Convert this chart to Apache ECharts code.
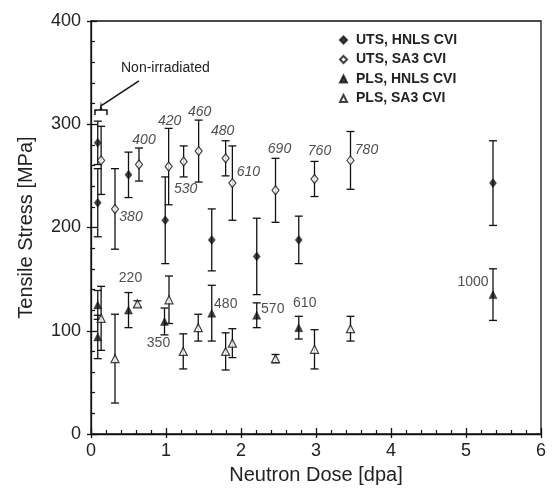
<!DOCTYPE html>
<html>
<head>
<meta charset="utf-8">
<script src="https://cdn.jsdelivr.net/npm/echarts@6/dist/echarts.min.js"></script>
<style>
html,body{margin:0;padding:0;background:#fff;}
#chart{width:553px;height:490px;}
</style>
</head>
<body>
<div id="chart"></div>
<script>
// ---- Data ----
const seriesNames = ['UTS, HNLS CVI', 'UTS, SA3 CVI', 'PLS, HNLS CVI', 'PLS, SA3 CVI'];

const utsHnlsDose   = [0.09, 0.09, 0.50, 0.99, 1.61, 2.21, 2.77, 5.36];
const utsHnlsStress = [282, 224, 251, 207, 188, 172, 188, 243];
const utsHnlsErr    = [21, 33, 22, 42, 30, 37, 23, 41];

const utsSa3Dose   = [0.135, 0.32, 0.64, 1.035, 1.235, 1.435, 1.795, 1.885, 2.46, 2.98, 3.46];
const utsSa3Stress = [265, 218, 261, 259, 264, 274, 267, 243, 236, 247, 265];
const utsSa3Err    = [33, 39, 16, 37, 15, 30, 17, 36, 31, 17, 28];
const utsSa3Labels = ['', '380', '400', '420', '530', '460', '480', '610', '690', '760', '780'];

const plsHnlsDose   = [0.09, 0.09, 0.50, 0.98, 1.61, 2.21, 2.77, 5.36];
const plsHnlsStress = [125, 94, 120, 109, 117, 115, 103, 135];
const plsHnlsErr    = [14, 21, 17, 13, 27, 12, 11, 25];
const plsHnlsLabels = ['', '', '220', '350', '480', '570', '610', '1000'];

const plsSa3Dose   = [0.135, 0.32, 0.62, 1.04, 1.23, 1.43, 1.795, 1.885, 2.46, 2.98, 3.46];
const plsSa3Stress = [112, 73, 126, 130, 80, 103, 80, 88, 73, 82, 102];
const plsSa3Err    = [31, 43, 3, 23, 17, 13, 18, 14, 4, 19, 12];

const xTicks = [0, 1, 2, 3, 4, 5, 6];
const yTicks = [0, 100, 200, 300, 400];

// ---- Label placement (pixel offsets from marker, styling only) ----
const utsSa3LabelOffsets = [[0,0],[16,8],[5,-24],[1,-45],[2,28],[1,-39],[-3,-27],[16,-11],[4,-41],[5,-28],[16,-10]];
const plsHnlsLabelOffsets = [[0,0],[0,0],[2,-32],[-6,22],[14,-9],[16,-6],[6,-25],[-20,-12]];

const FONT = "'Liberation Sans', Arial, Helvetica, sans-serif";
const TXT = '#222';

function errData(xs, ys, es) {
  return xs.map((x, i) => [x, ys[i] - es[i], ys[i] + es[i]]);
}
function errRender(params, api) {
  const x = api.value(0), lo = api.value(1), hi = api.value(2);
  const pT = api.coord([x, hi]), pB = api.coord([x, lo]);
  const hw = 4;
  const st = { stroke: '#111', lineWidth: 1.3 };
  return {
    type: 'group',
    children: [
      { type: 'line', shape: { x1: pT[0], y1: pT[1], x2: pB[0], y2: pB[1] }, style: st },
      { type: 'line', shape: { x1: pT[0] - hw, y1: pT[1], x2: pT[0] + hw, y2: pT[1] }, style: st },
      { type: 'line', shape: { x1: pB[0] - hw, y1: pB[1], x2: pB[0] + hw, y2: pB[1] }, style: st }
    ]
  };
}
function pointData(xs, ys, labels, offsets, italic) {
  return xs.map((x, i) => {
    const item = { value: [x, ys[i]] };
    if (labels && labels[i]) {
      item.label = {
        show: true, position: 'inside', formatter: labels[i],
        offset: offsets[i], color: TXT, fontFamily: FONT, fontSize: 14,
        fontStyle: italic ? 'italic' : 'normal', align: 'center', verticalAlign: 'middle'
      };
    }
    return item;
  });
}

// annotation geometry (data coordinates)
const bracketPts = [[0.053, 309], [0.053, 313.8], [0.125, 313.8], [0.133, 317.7], [0.141, 313.8], [0.213, 313.8], [0.213, 309]];
const pointerLine = [[0.133, 317.7], [0.64, 341.9]];
const noteAnchor = [0.40, 354.5];

const chart = echarts.init(document.getElementById('chart'), null, { renderer: 'canvas' });

const axisCommonX = { type: 'value', min: 0, max: 6, interval: 1, gridIndex: 0 };
const axisCommonY = { type: 'value', min: 0, max: 400, interval: 100, gridIndex: 0 };

const option = {
  animation: false,
  backgroundColor: '#fff',
  textStyle: { fontFamily: FONT },
  grid: { left: 91, right: 12, top: 21, bottom: 56, show: true, borderColor: '#111', borderWidth: 1.3, backgroundColor: 'transparent' },
  legend: {
    orient: 'vertical', left: 334, top: 28, itemGap: 5.5, itemWidth: 7, itemHeight: 7,
    data: seriesNames,
    textStyle: { fontFamily: FONT, fontWeight: 'bold', fontSize: 14, color: TXT, padding: [0, 0, 0, 4] },
    selectedMode: false
  },
  xAxis: [
    Object.assign({}, axisCommonX, {
      position: 'bottom',
      name: 'Neutron Dose [dpa]', nameLocation: 'middle', nameGap: 31,
      nameTextStyle: { fontFamily: FONT, fontSize: 20, color: TXT },
      axisLine: { show: true, lineStyle: { color: '#111', width: 1.3 } },
      axisTick: { show: true, inside: true, length: 6, lineStyle: { color: '#111', width: 1.3 } },
      minorTick: { show: true, splitNumber: 5, length: 4, lineStyle: { color: '#111', width: 1.2 } },
      axisLabel: { fontFamily: FONT, fontSize: 18, color: TXT, margin: 8,
        formatter: v => xTicks.indexOf(v) >= 0 ? String(v) : '' },
      splitLine: { show: false }
    }),
    Object.assign({}, axisCommonX, {
      position: 'bottom',
      axisLine: { show: false },
      axisTick: { show: true, inside: false, length: 4, lineStyle: { color: '#111', width: 1.3 } },
      axisLabel: { show: false },
      splitLine: { show: false }
    })
  ],
  yAxis: [
    Object.assign({}, axisCommonY, {
      position: 'left',
      name: 'Tensile Stress [MPa]', nameLocation: 'middle', nameGap: 55,
      nameTextStyle: { fontFamily: FONT, fontSize: 20, color: TXT },
      axisLine: { show: true, lineStyle: { color: '#111', width: 1.3 } },
      axisTick: { show: true, inside: true, length: 6, lineStyle: { color: '#111', width: 1.3 } },
      minorTick: { show: true, splitNumber: 5, length: 4, lineStyle: { color: '#111', width: 1.2 } },
      axisLabel: { fontFamily: FONT, fontSize: 18, color: TXT, margin: 10,
        formatter: v => yTicks.indexOf(v) >= 0 ? String(v) : '' },
      splitLine: { show: false }
    }),
    Object.assign({}, axisCommonY, {
      position: 'left',
      axisLine: { show: false },
      axisTick: { show: true, inside: false, length: 4, lineStyle: { color: '#111', width: 1.3 } },
      axisLabel: { show: false },
      splitLine: { show: false }
    })
  ],
  series: [
    { type: 'custom', name: 'errUtsHnls', renderItem: errRender, data: errData(utsHnlsDose, utsHnlsStress, utsHnlsErr), z: 1, silent: true },
    { type: 'custom', name: 'errUtsSa3', renderItem: errRender, data: errData(utsSa3Dose, utsSa3Stress, utsSa3Err), z: 1, silent: true },
    { type: 'custom', name: 'errPlsHnls', renderItem: errRender, data: errData(plsHnlsDose, plsHnlsStress, plsHnlsErr), z: 1, silent: true },
    { type: 'custom', name: 'errPlsSa3', renderItem: errRender, data: errData(plsSa3Dose, plsSa3Stress, plsSa3Err), z: 1, silent: true },
    {
      type: 'custom', name: 'annotation', silent: true, z: 3,
      data: [noteAnchor],
      renderItem: function (params, api) {
        const pts = bracketPts.map(p => api.coord(p));
        const l = pointerLine.map(p => api.coord(p));
        const t = api.coord(noteAnchor);
        return {
          type: 'group', children: [
            { type: 'polyline', shape: { points: pts }, style: { stroke: '#111', lineWidth: 1.5, fill: null } },
            { type: 'line', shape: { x1: l[0][0], y1: l[0][1], x2: l[1][0], y2: l[1][1] }, style: { stroke: '#111', lineWidth: 1.5 } },
            { type: 'text', x: t[0], y: t[1], style: { text: 'Non-irradiated', fill: TXT, font: '14px ' + FONT, textAlign: 'left', textVerticalAlign: 'middle' } }
          ]
        };
      }
    },
    {
      type: 'scatter', name: seriesNames[0], symbol: 'diamond', symbolSize: [7, 9], z: 5,
      itemStyle: { color: '#111', borderColor: '#111', borderWidth: 0.5 },
      data: pointData(utsHnlsDose, utsHnlsStress)
    },
    {
      type: 'scatter', name: seriesNames[1], symbol: 'diamond', symbolSize: [7, 9], z: 5,
      itemStyle: { color: '#fff', borderColor: '#111', borderWidth: 1.2 },
      data: pointData(utsSa3Dose, utsSa3Stress, utsSa3Labels, utsSa3LabelOffsets, true)
    },
    {
      type: 'scatter', name: seriesNames[2], symbol: 'triangle', symbolSize: [8, 8], z: 5,
      itemStyle: { color: '#111', borderColor: '#111', borderWidth: 0.5 },
      data: pointData(plsHnlsDose, plsHnlsStress, plsHnlsLabels, plsHnlsLabelOffsets, false)
    },
    {
      type: 'scatter', name: seriesNames[3], symbol: 'triangle', symbolSize: [8, 8], z: 5,
      itemStyle: { color: '#fff', borderColor: '#111', borderWidth: 1.2 },
      data: pointData(plsSa3Dose, plsSa3Stress)
    }
  ]
};
chart.setOption(option);
</script>
</body>
</html>
